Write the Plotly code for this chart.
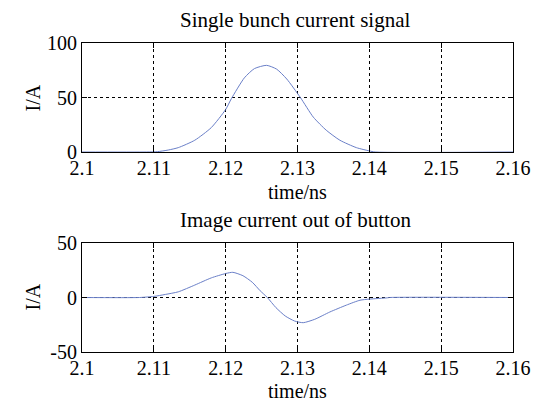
import plotly.graph_objects as go
from plotly.subplots import make_subplots

# ---- data ----
t_bunch = [2.100, 2.109, 2.1105, 2.112, 2.1134, 2.1157, 2.118, 2.120, 2.1208, 2.1226,
           2.124, 2.1257, 2.1271, 2.1285, 2.1304, 2.1322, 2.134, 2.1359, 2.1382, 2.140,
           2.1408, 2.160]
i_bunch = [0, 0, 0.3, 1.8, 4, 10.8, 22.4, 39, 49, 68,
           76.5, 79.5, 76, 67, 50, 32, 20, 10.8, 4, 1,
           0, 0]

t_image = [2.100, 2.108, 2.110, 2.1116, 2.1134, 2.1157, 2.118, 2.120, 2.121, 2.1224,
           2.1237, 2.1248, 2.1258, 2.127, 2.1283, 2.1296, 2.1308, 2.1324, 2.1345, 2.1368,
           2.1387, 2.140, 2.1425, 2.1428, 2.160]
i_image = [0, 0, 1, 2.8, 5.2, 11.4, 18, 22, 23.1, 20,
           14, 6.2, 0, -9.3, -17, -21.6, -23.1, -20, -13.3, -7,
           -2.5, -1.5, -0.3, 0, 0]

x_tickvals = [2.10, 2.11, 2.12, 2.13, 2.14, 2.15, 2.16]
x_ticktext = ["2.1", "2.11", "2.12", "2.13", "2.14", "2.15", "2.16"]
y1_tickvals = [0, 50, 100]
y1_ticktext = ["0", "50", "100"]
y2_tickvals = [-50, 0, 50]
y2_ticktext = ["-50", "0", "50"]

title_top = "Single bunch current signal"
title_bottom = "Image current out of button"
x_title = "time/ns"
y_title = "I/A"

FONT = "Liberation Serif, Times New Roman, serif"
FS = 20
FS_T = 21
LINE = "#6a7fc8"

fig = make_subplots(rows=2, cols=1, vertical_spacing=0.0)
fig.add_trace(go.Scatter(x=t_bunch, y=i_bunch, mode="lines",
                         line=dict(color=LINE, width=1, shape="spline", smoothing=0.6)),
              row=1, col=1)
fig.add_trace(go.Scatter(x=t_image, y=i_image, mode="lines",
                         line=dict(color=LINE, width=1, shape="spline", smoothing=0.6)),
              row=2, col=1)

W, H = 543, 401
L, R, T, B = 82, 26, 43, 49
ph = H - T - B
top_dom = [(352 - 152) / ph, 1.0]
bot_dom = [0.0, (352 - 243) / ph]

axis_common = dict(showline=True, mirror="ticks", linecolor="black", linewidth=1,
                   ticks="inside", ticklen=5, tickcolor="black",
                   showgrid=True, gridcolor="black", gridwidth=1, griddash="3px,3px",
                   zeroline=False, tickfont=dict(family=FONT, size=FS, color="black"))

fig.update_xaxes(range=[2.1, 2.16], tickvals=x_tickvals, ticktext=x_ticktext,
                 ticklabelstandoff=-2, **axis_common)
fig.update_yaxes(**axis_common)
fig.update_yaxes(range=[0, 100], tickvals=y1_tickvals, ticktext=y1_ticktext,
                 domain=top_dom, row=1, col=1)
fig.update_yaxes(range=[-50, 50], tickvals=y2_tickvals, ticktext=y2_ticktext,
                 domain=bot_dom, row=2, col=1)


def paper_y(py):
    return (H - B - py) / ph


def paper_x(px):
    return (px - L) / (W - L - R)


annotations = []
for text, px, py, fs in [(title_top, 297, 20, FS_T), (title_bottom, 297, 220, FS_T),
                         (x_title, 299, 192, FS), (x_title, 299, 391, FS)]:
    annotations.append(dict(text=text, x=paper_x(px), y=paper_y(py), xref="paper", yref="paper",
                            showarrow=False, xanchor="center", yanchor="middle",
                            font=dict(family=FONT, size=fs, color="black")))
for py in (98, 297):
    annotations.append(dict(text=y_title, x=paper_x(33), y=paper_y(py), xref="paper", yref="paper",
                            showarrow=False, xanchor="center", yanchor="middle", textangle=-90,
                            font=dict(family=FONT, size=FS, color="black")))

fig.update_layout(width=W, height=H, margin=dict(l=L, r=R, t=T, b=B),
                  paper_bgcolor="white", plot_bgcolor="white", showlegend=False,
                  annotations=annotations, font=dict(family=FONT, size=FS, color="black"))

fig.write_html("out.html")
